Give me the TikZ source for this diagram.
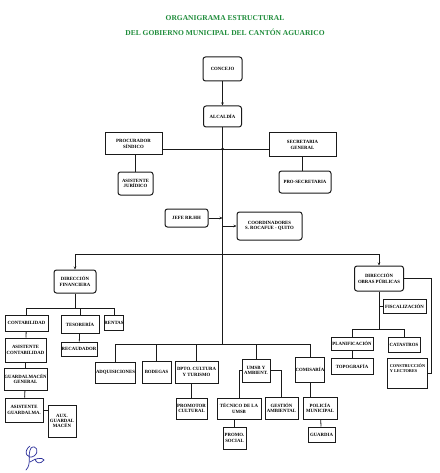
\documentclass[tikz,border=0pt]{standalone}
\usepackage{fontspec}
\setmainfont{Liberation Serif}
\usetikzlibrary{arrows.meta,positioning,calc}
\definecolor{TitleGreen}{HTML}{1E8C3A}
\definecolor{InkBlue}{HTML}{2B2F9A}
\definecolor{LineBlack}{HTML}{1A1A1A}

\begin{document}
\begin{tikzpicture}[x=1pt,y=-1pt,
    unit/.style={draw=LineBlack,line width=1pt,fill=white,inner sep=0.3pt,align=center,
      font=\fontsize{4.8}{5.4}\selectfont\bfseries},
    unitr/.style={unit,rounded corners=2.5pt},
    link/.style={draw=LineBlack,line width=0.8pt},
    arr/.style={link,-{Stealth[length=3pt,width=2.5pt]}},
    heading/.style={text=TitleGreen,font=\fontsize{7.5}{8.5}\selectfont\bfseries}]
  \useasboundingbox[fill=white] (0,0) rectangle (439,473);

  % titulo
  \node[heading] (title1) at (225,18) {ORGANIGRAMA ESTRUCTURAL};
  \node[heading] (title2) at (225,32) {DEL GOBIERNO MUNICIPAL DEL CANTÓN AGUARICO};

  % nivel superior
  \node[unitr,minimum width=39,minimum height=24] (concejo) at (222.5,69) {CONCEJO};
  \node[unitr,minimum width=38,minimum height=21] (alcaldia) at (222.5,116.5) {ALCALDÍA};
  \node[unit,minimum width=57,minimum height=22] (procurador) at (133.5,144) {PROCURADOR\\SÍNDICO};
  \node[unit,minimum width=67,minimum height=24] (secretaria) at (302.5,145) {SECRETARIA\\GENERAL};
  \node[unitr,minimum width=35,minimum height=23] (asisjur) at (135.5,183.5) {ASISTENTE\\JURÍDICO};
  \node[unitr,minimum width=52,minimum height=22] (prosec) at (305,182) {PRO-SECRETARIA};
  \node[unitr,minimum width=43,minimum height=18] (jefe) at (186.5,218) {JEFE RR.HH};
  \node[unitr,minimum width=65,minimum height=28] (coord) at (269.5,226) {COORDINADORES\\S. ROCAFUE - QUITO};

  \coordinate (junta) at (222.5,149);
  \coordinate (busA) at (222.5,254);
  \coordinate (busB) at (222.5,344);

  % direcciones
  \node[unitr,minimum width=42,minimum height=23] (df) at (75,281.5) {DIRECCIÓN\\FINANCIERA};
  \node[unitr,minimum width=49,minimum height=25] (dop) at (379,278.5) {DIRECCIÓN\\OBRAS PÚBLICAS};

  % financiero
  \node[unit,minimum width=43,minimum height=16] (contab) at (26.5,323) {CONTABILIDAD};
  \node[unit,minimum width=38,minimum height=18] (tesoreria) at (80,324) {TESORERÍA};
  \node[unit,minimum width=19,minimum height=15] (rentas) at (114,322.5) {RENTAS};
  \node[unit,minimum width=36,minimum height=14] (recaudador) at (79,349) {RECAUDADOR};
  \node[unit,minimum width=41,minimum height=24] (asiscont) at (25.5,350) {ASISTENTE\\CONTABILIDAD};
  \node[unit,minimum width=41,minimum height=22] (guardalm) at (25.5,379) {GUARDALMACÉN\\GENERAL};
  \node[unit,minimum width=38,minimum height=24] (asisguard) at (24,410) {ASISTENTE\\GUARDALMA.};
  \node[unit,minimum width=28,minimum height=32] (auxguard) at (62,421) {AUX.\\GUARDAL\\MACÉN};

  % departamentos
  \node[unit,minimum width=39,minimum height=21] (adq) at (115.5,372.5) {ADQUISICIONES};
  \node[unit,minimum width=29,minimum height=22] (bodega) at (156.5,372) {BODEGAS};
  \node[unit,minimum width=43,minimum height=22] (cultura) at (196.5,372) {DPTO. CULTURA\\Y TURISMO};
  \node[unit,minimum width=28,minimum height=23] (umsb) at (256,370.5) {UMSB Y\\AMBIENT.};
  \node[unit,minimum width=29,minimum height=25] (comisaria) at (310,369.5) {COMISARÍA};
  \node[unit,minimum width=31,minimum height=21] (promotor) at (191.5,408.5) {PROMOTOR\\CULTURAL};
  \node[unit,minimum width=44,minimum height=21] (tecnico) at (239,408.5) {TÉCNICO DE LA\\UMSB};
  \node[unit,minimum width=33,minimum height=22] (gestion) at (281.5,408) {GESTIÓN\\AMBIENTAL};
  \node[unit,minimum width=34,minimum height=22] (policia) at (320,408) {POLICÍA\\MUNICIPAL};
  \node[unit,minimum width=23,minimum height=22] (promo) at (234.5,438) {PROMO.\\SOCIAL};
  \node[unit,minimum width=27,minimum height=15] (guardia) at (321.5,434.5) {GUARDIA};

  % obras publicas
  \node[unit,minimum width=43,minimum height=14] (fisc) at (404.5,306) {FISCALIZACIÓN};
  \node[unit,minimum width=42,minimum height=13] (planif) at (352,343.5) {PLANIFICACIÓN};
  \node[unit,minimum width=32,minimum height=15] (catastro) at (404,344.5) {CATASTROS};
  \node[unit,minimum width=42,minimum height=16] (topo) at (352,366) {TOPOGRAFÍA};
  \node[unit,minimum width=40,minimum height=30,
    label={[anchor=north,align=left,font=\fontsize{4.3}{5.2}\selectfont\bfseries,yshift=-3pt]north:CONSTRUCCIÓN\\Y LECTORES}]
    (constr) at (407.5,373) {};
  \coordinate (dopBus) at (379,329);
  \coordinate (dopFar) at (431,373);

  % conectores superiores
  \draw[arr] (concejo) -- (alcaldia);
  \draw[link] (alcaldia.south) -- (busB);
  \draw[link] (procurador.east |- junta) -- (secretaria.west |- junta);
  \fill[LineBlack] (junta) circle (1.5);
  \draw[link] (asisjur.north |- procurador.south) -- (asisjur.north);
  \draw[link] (secretaria.south) -- (secretaria.south |- prosec.north);
  \draw[arr] (jefe.east) -- (jefe.east -| junta);
  \draw[arr] (coord.west -| junta) -- (coord.west);

  % direcciones
  \draw[link] (df.north |- busA) -- (dop.north |- busA);
  \draw[arr] (df.north |- busA) -- (df.north);
  \draw[arr] (dop.north |- busA) -- (dop.north);

  % financiero
  \draw[link] (df.south) -- (df.south |- 0,308);
  \draw[link] (contab.north |- 0,308) -- (rentas.north |- 0,308);
  \foreach \n in {contab,tesoreria,rentas}
    \draw[link] (\n.north |- 0,308) -- (\n.north);
  \draw[link] (tesoreria) -- (recaudador);
  \draw[link] (contab) -- (asiscont);
  \draw[link] (asiscont) -- (guardalm);
  \draw[link] (guardalm) -- (asisguard);
  \draw[link] (asisguard.east) -- (asisguard.east -| auxguard.west);

  % departamentos
  \draw[link] (adq.north |- busB) -- (comisaria.north |- busB);
  \foreach \n in {adq,bodega,cultura,umsb,comisaria}
    \draw[link] (\n.north |- busB) -- (\n.north);
  \draw[link] (promotor.north |- cultura.south) -- (promotor.north);
  \draw[link] (umsb.west) -| (tecnico.north);
  \draw[link] (umsb.east) -| (gestion.north);
  \draw[link] (promo.north |- tecnico.south) -- (promo.north);
  \draw[link] (comisaria.south) -- (comisaria.south |- policia.north);
  \draw[link] (policia) -- (guardia);

  % obras publicas
  \draw[link] (dop.south) -- (dopBus);
  \draw[link] (fisc.west -| dopBus) -- (fisc.west);
  \draw[link] (planif.north |- dopBus) -- (catastro.north |- dopBus);
  \draw[link] (planif.north |- dopBus) -- (planif.north);
  \draw[link] (catastro.north |- dopBus) -- (catastro.north);
  \draw[link] (planif) -- (topo);
  \draw[link] (dop.east) -| (dopFar) -- (constr.east |- dopFar);

  % firma
  \draw[InkBlue,line width=0.7pt,line cap=round]
    (30,446) .. controls (22,452) and (28,460) .. (34,456)
    .. controls (40,452) and (36,444) .. (31,448)
    .. controls (27,455) and (32,464) .. (26,470);
  \draw[InkBlue,line width=0.7pt,line cap=round]
    (30,462) .. controls (36,458) and (42,457) .. (44,460)
    .. controls (40,465) and (36,463) .. (35,459);
\end{tikzpicture}
\end{document}
